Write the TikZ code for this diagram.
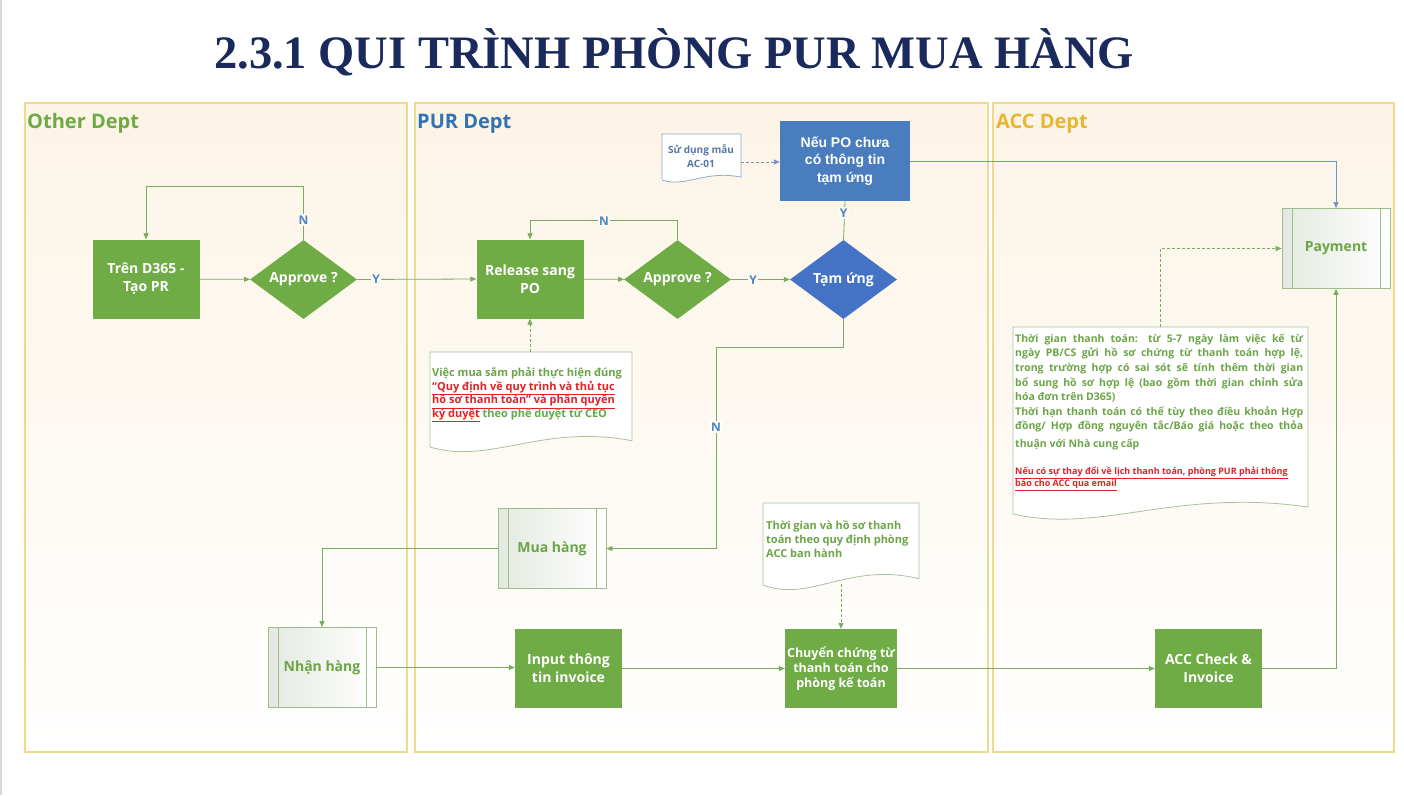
\documentclass[tikz,border=0pt]{standalone}
\usepackage{fontspec}
\setmainfont{Open Sans}
\newfontfamily\titlefont{Liberation Serif}
\newfontfamily\arialfont{Liberation Sans}
\usetikzlibrary{shapes.geometric,arrows.meta,calc}
\definecolor{gfill}{HTML}{6FAC46}
\definecolor{bfill}{HTML}{4472C4}
\definecolor{bbox}{HTML}{4A7DBD}
\definecolor{conn}{HTML}{7AAB5E}
\definecolor{bconn}{HTML}{7096C9}
\definecolor{tgreen}{HTML}{6BA547}
\definecolor{lblue}{HTML}{4A84C2}
\definecolor{tred}{HTML}{E02222}
\definecolor{navy}{HTML}{1B2A5C}
\definecolor{poolb}{HTML}{EFD98A}
\definecolor{poolc}{HTML}{FCF4E6}
\definecolor{poolm}{HTML}{FFFDFA}
\definecolor{preb}{HTML}{9DBE8B}
\definecolor{preL}{HTML}{E3E9E0}
\definecolor{docb}{HTML}{A9C19D}
\definecolor{docbb}{HTML}{93ABC9}
\definecolor{ac01t}{HTML}{5577A8}
\definecolor{lblbg}{HTML}{FEF9F2}
\definecolor{otherc}{HTML}{6DAA45}
\definecolor{purc}{HTML}{2E74B5}
\definecolor{accc}{HTML}{E7B52E}
\newcommand\DocShape[6]{%
  \pgfmathsetmacro\dw{#4-#2}%
  \path[#1] (#2,#3) -- (#4,#3) -- ({#4},{#5-0.7*#6})
    .. controls ({#2+0.55*\dw},{#5-2.6*#6}) and ({#2+0.3*\dw},{#5+2*#6}) .. (#2,#5) -- cycle;}
\newcommand\JL[1]{\makebox[288pt][s]{#1}}
\begin{document}
\begin{tikzpicture}[x=1pt,y=-1pt,
  nodefont/.style={font=\bfseries\fontsize{14}{18}\selectfont},
  proc/.style={rectangle, fill=gfill, text=white, nodefont, align=center,
    minimum width=107pt, minimum height=79pt, inner sep=2pt},
  dec/.style={diamond, fill=gfill, text=white, nodefont, align=center,
    minimum width=107pt, minimum height=79pt, inner sep=0pt, aspect=1.35},
  bluebox/.style={rectangle, fill=bbox, text=white, align=center,
    font=\arialfont\bfseries\fontsize{14}{17.5}\selectfont,
    minimum width=130pt, minimum height=80pt},
  pre/.style={rectangle, draw=preb, line width=0.8pt, left color=preL, right color=white,
    text=tgreen, nodefont, minimum width=108pt, minimum height=80pt,
    path picture={\draw[preb, line width=0.8pt]
      ([xshift=10pt]path picture bounding box.north west) -- ([xshift=10pt]path picture bounding box.south west)
      ([xshift=-10pt]path picture bounding box.north east) -- ([xshift=-10pt]path picture bounding box.south east);}},
  pool/.style={draw=poolb, line width=1.1pt, top color=poolc, middle color=poolm, bottom color=white},
  pooltitle/.style={anchor=base west, inner sep=0pt, font=\bfseries\fontsize{20}{24}\selectfont},
  arr/.style={draw=conn, line width=0.8pt, -{Triangle[length=6pt,width=5pt]}},
  ln/.style={draw=conn, line width=0.8pt},
  barr/.style={draw=bconn, line width=0.8pt, -{Triangle[length=6pt,width=5pt]}},
  darr/.style={draw=conn, line width=0.9pt, dash pattern=on 3pt off 2pt, -{Triangle[length=6pt,width=5pt]}},
  dbarr/.style={draw=bconn, line width=0.9pt, dash pattern=on 3pt off 2pt, -{Triangle[length=6pt,width=5pt]}},
  lbl/.style={text=lblue, fill=lblbg, inner sep=1.5pt, font=\bfseries\fontsize{12}{14}\selectfont},
  docg/.style={draw=docb, line width=0.8pt, fill=white},
  docbl/.style={draw=docbb, line width=0.8pt, fill=white},
  notetxt/.style={anchor=north west, inner sep=0pt, align=left, text=tgreen}
]
\useasboundingbox (0,0) rectangle (1404,795);
\fill[white] (0,0) rectangle (1404,795);
\draw[black!15, line width=1.5pt] (0.75,0) -- (0.75,795);

% title
\node[anchor=base, inner sep=0pt, text=navy,
  font=\titlefont\bfseries\fontsize{46.5}{50}\selectfont] (title) at (674,68)
  {2.3.1 QUI TRÌNH PHÒNG PUR MUA HÀNG};

% pools
\path[pool] (25,103) rectangle (407,752);
\path[pool] (415,103) rectangle (988,752);
\path[pool] (993,103) rectangle (1394,752);
\node[pooltitle, text=otherc] (t1) at (27,128.5) {Other Dept};
\node[pooltitle, text=purc] (t2) at (417,128.5) {PUR Dept};
\node[pooltitle, text=accc] (t3) at (996,128.5) {ACC Dept};

% documents
\DocShape{docbl}{662}{134}{741}{180}{4}
\DocShape{docg}{430}{352}{632}{447}{9}
\DocShape{docg}{763}{503}{919}{585}{9}
\DocShape{docg}{1013}{327}{1308}{514}{10}

\node[anchor=north, inner sep=0pt, align=center, text=ac01t,
  font=\bfseries\fontsize{10}{14}\selectfont] (ac01) at (701,144)
  {\rule{0pt}{9pt}Sử dụng mẫu\\AC-01};
\coordinate (ac01e) at (741,162);

\node[notetxt, font=\bfseries\fontsize{11}{13.8}\selectfont] (note1) at (432,366)
  {\rule{0pt}{10pt}Việc mua sắm phải thực hiện đúng\\
   \textcolor{tred}{\underline{“Quy định về quy trình và thủ tục}}\\
   \textcolor{tred}{\underline{hồ sơ thanh toán” và phân quyền}}\\
   \textcolor{tred}{\underline{ký duyệt}} theo phê duyệt từ CEO};
\coordinate (note1n) at (530,352);

\node[notetxt, font=\bfseries\fontsize{11}{14}\selectfont] (tg) at (766,519)
  {\rule{0pt}{10pt}Thời gian và hồ sơ thanh\\toán theo quy định phòng\\ACC ban hành};
\coordinate (tgs) at (841,584);

\node[notetxt, font=\bfseries\fontsize{10.5}{14.6}\selectfont] (accn) at (1015,332)
  {\rule{0pt}{10pt}\JL{Thời gian thanh toán: từ 5-7 ngày làm việc kế từ}\\
   \JL{ngày PB/CS gửi hồ sơ chứng từ thanh toán hợp lệ,}\\
   \JL{trong trường hợp có sai sót sẽ tính thêm thời gian}\\
   \JL{bổ sung hồ sơ hợp lệ (bao gồm thời gian chỉnh sửa}\\
   hóa đơn trên D365)\\
   \JL{Thời hạn thanh toán có thể tùy theo điều khoản Hợp}\\
   \JL{đồng/ Hợp đồng nguyên tắc/Báo giá hoặc theo thỏa}\\[3.4pt]
   thuận với Nhà cung cấp};
\node[notetxt, text=tred, font=\bfseries\fontsize{9}{12.5}\selectfont] (accred) at (1015,466)
  {\rule{0pt}{8pt}\underline{Nếu có sự thay đổi về lịch thanh toán, phòng PUR phải thông}\\
   \underline{báo cho ACC qua email}};
\coordinate (accnn) at (1160,327);

% process nodes
\node[proc] (d365) at (146,279) {Trên D365 -\\Tạo PR};
\node[dec] (app1) at (303.5,279.5) {Approve ?};
\node[proc] (rel) at (530,279) {Release sang\\PO};
\node[dec] (app2) at (677.5,279.5) {Approve ?};
\node[dec, fill=bfill] (tam) at (843.5,279.5) {Tạm ứng};
\node[bluebox] (neu) at (845,161) {Nếu PO chưa\\có thông tin\\tạm ứng};
\node[pre] (pay) at (1336,248.5) {Payment};
\node[pre] (mua) at (552,548.5) {Mua hàng};
\node[pre] (nhan) at (322,667.5) {Nhận hàng};
\node[proc] (inp) at (568.5,668.5) {Input thông\\tin invoice};
\node[proc, font=\bfseries\fontsize{12.5}{15}\selectfont] (chuy) at (841,668.5)
  {Chuyển chứng từ\\thanh toán cho\\phòng kế toán};
\node[proc] (acc) at (1208.5,668.5) {ACC Check \&\\Invoice};

% connectors
\draw[arr] (d365) -- (app1);
\draw[arr] (app1.north) -- ++(0,-53) -| (d365.north);
\node[lbl] (n1) at (303.5,220) {N};
\draw[arr] (app1.east) -- (rel.west);
\node[lbl] (y1) at (376,279.5) {Y};
\draw[arr] (rel) -- (app2);
\draw[arr] (app2.north) -- ++(0,-19) -| (rel.north);
\node[lbl] (n2) at (604,221) {N};
\draw[arr] (app2.east) -- (tam.west);
\node[lbl] (y2) at (753,280) {Y};
\draw[ln] (tam.north) -- (neu.south);
\node[lbl] (y3) at (843.5,213) {Y};
\draw[dbarr] (ac01e) -- (ac01e -| neu.west);
\draw[barr] (neu.east) -| (pay.north);
\draw[arr] (tam.south) -- ++(0,28) -- ++(-127.5,0) |- (mua.east);
\node[lbl, fill=white] (n3) at (716,427) {N};
\draw[arr] (mua.west) -| (nhan.north);
\draw[arr] (nhan) -- (nhan -| inp.west);
\draw[arr] (inp) -- (chuy);
\draw[arr] (chuy) -- (acc);
\draw[arr] (acc.east) -| (pay.south);
\draw[darr] (note1n) -- (rel.south);
\draw[darr] (tgs) -- (chuy.north);
\draw[darr] (accnn) |- (pay.west);
\end{tikzpicture}
\end{document}
